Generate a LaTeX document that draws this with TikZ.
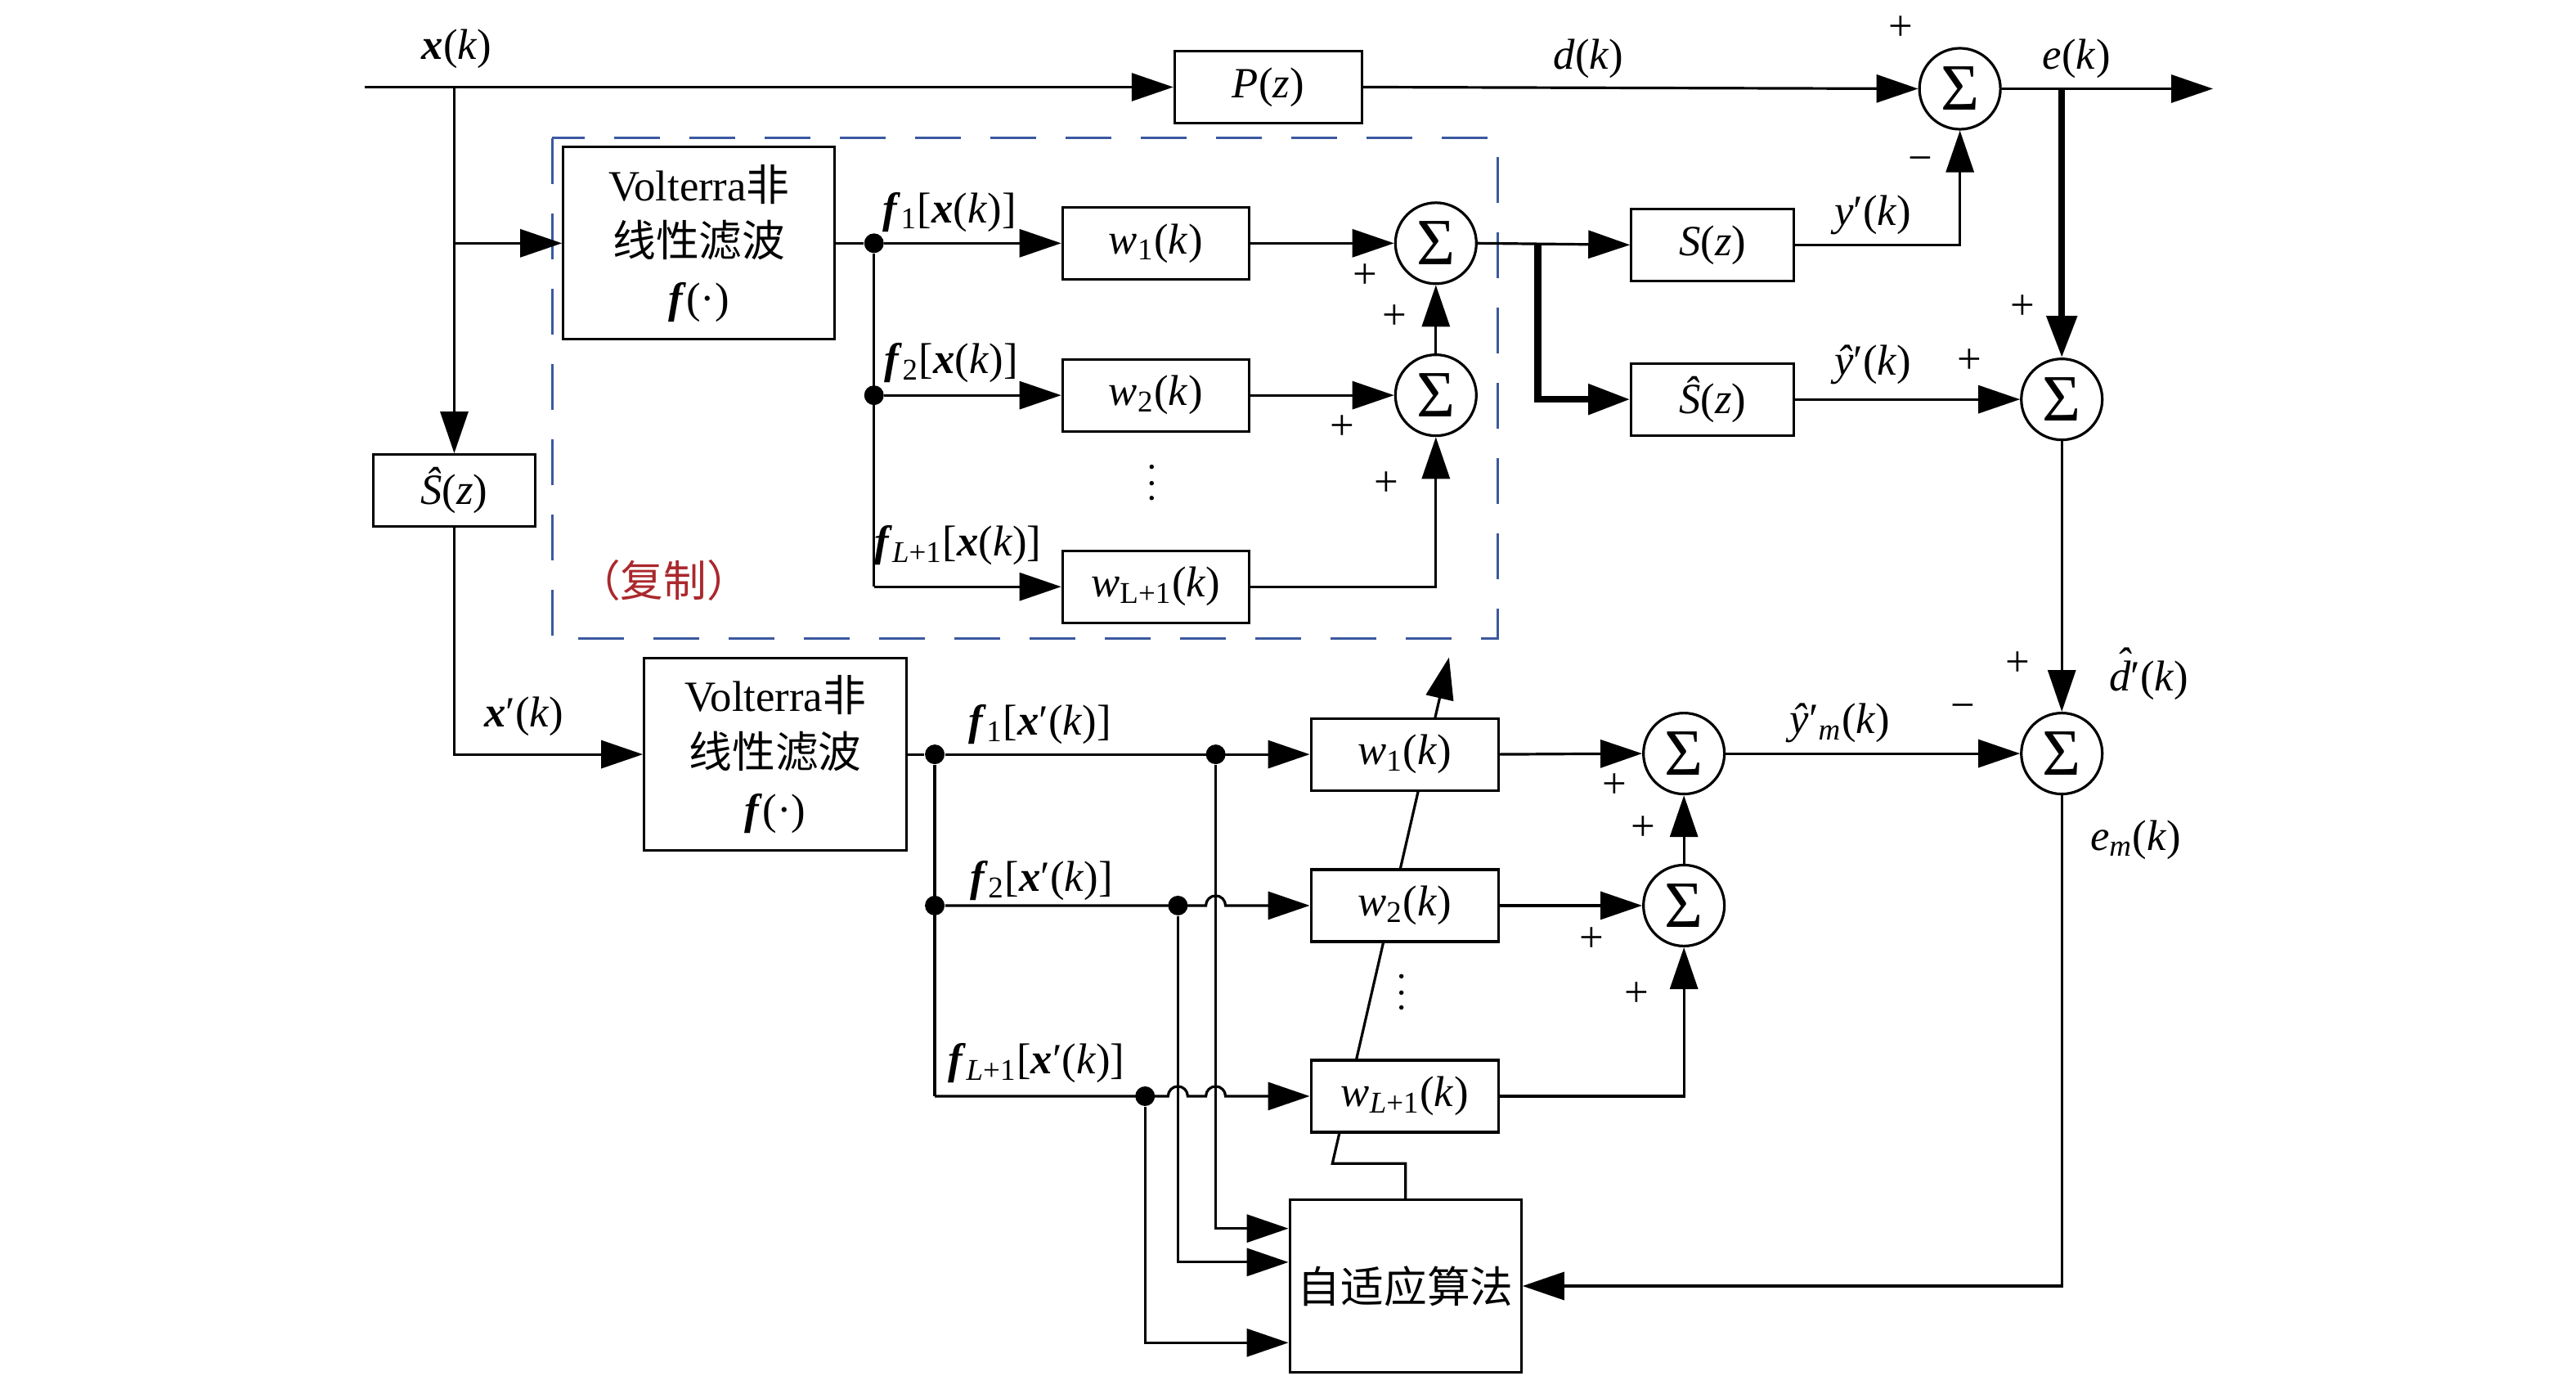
\documentclass[tikz,border=0pt]{standalone}
\usepackage{amsmath}
\usepackage{fontspec}
\setmainfont{Liberation Serif}
\newfontfamily\cjk{Noto Sans CJK SC}
\usetikzlibrary{arrows.meta}
\definecolor{dashblue}{RGB}{59,89,160}
\definecolor{copyred}{RGB}{170,40,45}
\newcommand{\vx}{\textbf{\textit{x}}}
\newcommand{\vf}{\textbf{\textit{f}}}
\newcommand{\kk}{(\textit{k})}
\newcommand{\sbs}[1]{\textsubscript{#1}}
\newcommand{\hatd}{\textit{\rlap{\hspace{0.16em}\raisebox{0.3em}{ˆ}}d}}
\begin{document}
\begin{tikzpicture}[x=0.2009mm,y=-0.2009mm,
  font=\fontsize{15}{19.5}\selectfont,
  ln/.style={line width=0.32mm},
  thk/.style={line width=0.85mm},
  arr/.style={ln,-{Triangle[length=5.1mm,width=3.4mm]}},
  tarr/.style={thk,-{Triangle[length=5.1mm,width=3.6mm]}},
  blk/.style={draw,ln,fill=white,inner sep=0pt,minimum height=8.8mm},
  sumn/.style={circle,draw,ln,fill=white,inner sep=0pt,minimum size=9.9mm,font=\fontsize{23}{23}\selectfont},
  junc/.style={circle,fill,inner sep=0pt,minimum size=2.4mm},
  lbl/.style={inner sep=0pt},
  vdot/.style={circle,fill,inner sep=0pt,minimum size=0.55mm}]
\useasboundingbox (0,0) rectangle (1568,837.2);

% dashed copy region
\draw[dashblue,line width=0.3mm,dash pattern=on 5.6mm off 3.6mm] (336,84) rectangle (911.5,388.5);
\node[lbl,text=copyred,font=\cjk\fontsize{15}{18}\selectfont] (copy) at (404,353) {（复制）};

% ---------- top: primary path ----------
\coordinate (xin) at (222,53);
\coordinate (xb) at (276.5,53);
\node[blk,minimum width=22.9mm] (P) at (772,53) {\textit{P}(\textit{z})};
\node[sumn] (s1) at (1193,54) {Σ};
\coordinate (eb) at (1255,54);
\coordinate (eout) at (1347,54);

\draw[arr] (xin) -- (P.west);
\draw[arr] (P.east) -- (s1.west);
\draw[arr] (s1.east) -- (eout);

\node[lbl] (lx) at (278,30) {\vx\kk};
\node[lbl] (ld) at (967,36) {\textit{d}\kk};
\node[lbl] (le) at (1264,36) {\textit{e}\kk};
\node[lbl] (p1) at (1157,17) {+};
\node[lbl] (m1s) at (1169,100) {−};

% ---------- top: copied Volterra filter ----------
\node[blk,minimum width=33.2mm,minimum height=23.5mm,align=center] (V1) at (425.5,148)
  {Volterra{\cjk 非}\\{\cjk 线性滤波}\\\vf(·)};
\coordinate (v1in) at (276.5,148);
\draw[arr] (v1in) -- (V1.west);

\node[junc] (j1) at (532,148) {};
\node[junc] (j2) at (532,240.5) {};
\coordinate (j3) at (532,357);

\node[blk,minimum width=22.8mm] (w1) at (703.5,148) {\textit{w}\sbs{1}\kk};
\node[blk,minimum width=22.8mm] (w2) at (703.5,240.5) {\textit{w}\sbs{2}\kk};
\node[blk,minimum width=22.8mm] (wL) at (703.5,357) {\textit{w}\sbs{L+1}\kk};

\draw[ln] (V1.east) -- (j1);
\draw[ln] (j1) -- (j3);
\draw[arr] (j1) -- (w1.west);
\draw[arr] (j2) -- (w2.west);
\draw[arr] (j3) -- (wL.west);

\node[lbl] (f1) at (578,129) {\vf\sbs{1}[\vx\kk]};
\node[lbl] (f2) at (579,221) {\vf\sbs{2}[\vx\kk]};
\node[lbl] (fL) at (583,332) {\vf\sbs{\textit{L}+1}[\vx\kk]};

\node[vdot] at (701,284) {};
\node[vdot] at (701,294) {};
\node[vdot] at (701,303) {};

\node[sumn] (sa) at (874,148) {Σ};
\node[sumn] (sb) at (874,240.5) {Σ};
\draw[arr] (w1.east) -- (sa.west);
\draw[arr] (w2.east) -- (sb.west);
\draw[arr] (wL.east) -| (sb.south);
\draw[arr] (sb.north) -- (sa.south);
\node[lbl] at (831,168) {+};
\node[lbl] at (849,193) {+};
\node[lbl] at (817,260) {+};
\node[lbl] at (844,294.5) {+};

% ---------- secondary path S(z), S^(z) ----------
\node[blk,minimum width=19.9mm] (Sz) at (1042.5,149) {\textit{S}(\textit{z})};
\node[blk,minimum width=19.9mm] (Shz) at (1042.5,243) {\textit{Ŝ}(\textit{z})};
\coordinate (tb) at (936,148);
\draw[arr] (sa.east) -- (Sz.west);
\draw[tarr] (tb) |- (Shz.west);
\draw[arr] (Sz.east) -| (s1.south);

\node[sumn] (s2) at (1255,243) {Σ};
\node[sumn] (s3) at (1255,458.5) {Σ};
\draw[arr] (Shz.east) -- (s2.west);
\draw[tarr] (eb) -- (s2.north);
\draw[arr] (s2.south) -- (s3.north);

\node[lbl] (ly) at (1140,131) {\textit{y}′\kk};
\node[lbl] (lyh) at (1140,222) {\textit{ŷ}′\kk};
\node[lbl] at (1199,220) {+};
\node[lbl] at (1231,187) {+};
\node[lbl] at (1228,404) {+};
\node[lbl] at (1195,433) {−};
\node[lbl] (ldh) at (1308,410) {\hatd′\kk};
\node[lbl] (lem) at (1300,511) {\textit{e}\sbs{\textit{m}}\kk};
\node[lbl] (lym) at (1120,440) {\textit{ŷ}′\sbs{\textit{m}}\kk};

% ---------- lower: model branch ----------
\node[blk,minimum width=19.8mm] (Sh2) at (276.5,298.5) {\textit{Ŝ}(\textit{z})};
\draw[arr] (xb) -- (Sh2.north);

\node[blk,minimum width=32.1mm,minimum height=23.5mm,align=center] (V2) at (472,459)
  {Volterra{\cjk 非}\\{\cjk 线性滤波}\\\vf(·)};
\draw[arr] (Sh2.south) |- (V2.west);
\node[lbl] (lxp) at (319,436) {\vx′\kk};

\node[junc] (k1) at (569,459) {};
\node[junc] (k2) at (569,551) {};
\coordinate (k3) at (569,667);
\node[junc] (n1) at (740,459) {};
\node[junc] (n2) at (717,551) {};
\node[junc] (n3) at (697,667) {};

% adaptive algorithm block and its update arrow (drawn behind the weight boxes)
\node[draw,ln,fill=white,minimum width=28.3mm,minimum height=21.1mm,inner sep=0pt] (alg) at (855.5,782.5)
  {\cjk 自适应算法};
\coordinate (adj1) at (811,708);
\coordinate (adjtip) at (882,400);
\draw[arr] (alg.north) |- (adj1) -- (adjtip);

\node[blk,minimum width=22.9mm] (u1) at (855,459) {\textit{w}\sbs{1}\kk};
\node[blk,minimum width=22.9mm] (u2) at (855,551) {\textit{w}\sbs{2}\kk};
\node[blk,minimum width=22.9mm] (uL) at (855,667) {\textit{w}\sbs{\textit{L}+1}\kk};

\draw[ln] (V2.east) -- (k1);
\draw[ln] (k1) -- (k3);
\draw[arr] (k1) -- (u1.west);
\draw[arr] (k2) -- (734,551) arc[start angle=180,end angle=0,radius=1.2mm] -- (u2.west);
\draw[arr] (k3) -- (711,667) arc[start angle=180,end angle=0,radius=1.2mm]
  -- (734,667) arc[start angle=180,end angle=0,radius=1.2mm] -- (uL.west);

\coordinate (a1) at (alg.west |- 0,747.5);
\coordinate (a2) at (alg.west |- 0,768);
\coordinate (a3) at (alg.west |- 0,817);
\draw[arr] (n1) |- (a1);
\draw[arr] (n2) |- (a2);
\draw[arr] (n3) |- (a3);

\node[lbl] (g1) at (633,441) {\vf\sbs{1}[\vx′\kk]};
\node[lbl] (g2) at (634,536) {\vf\sbs{2}[\vx′\kk]};
\node[lbl] (gL) at (631,647) {\vf\sbs{\textit{L}+1}[\vx′\kk]};

\node[vdot] at (853,594) {};
\node[vdot] at (853,604) {};
\node[vdot] at (853,613) {};

\node[sumn] (sc) at (1025,458.5) {Σ};
\node[sumn] (sd) at (1025,551) {Σ};
\draw[arr] (u1.east) -- (sc.west);
\draw[arr] (u2.east) -- (sd.west);
\draw[arr] (uL.east) -| (sd.south);
\draw[arr] (sd.north) -- (sc.south);
\draw[arr] (sc.east) -- (s3.west);
\draw[arr] (s3.south) |- (alg.east);

\node[lbl] at (983,478) {+};
\node[lbl] at (1000,504) {+};
\node[lbl] at (969,571.5) {+};
\node[lbl] at (996,605) {+};
\end{tikzpicture}
\end{document}
